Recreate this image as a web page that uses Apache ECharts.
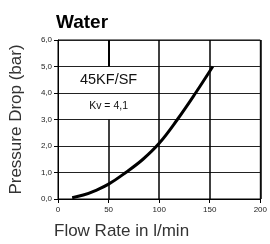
<!DOCTYPE html>
<html><head><meta charset="utf-8">
<script src="https://cdn.jsdelivr.net/npm/echarts@6/dist/echarts.min.js"></script>
<style>html,body{margin:0;padding:0;background:#fff;overflow:hidden}#c{width:270px;height:244px}</style>
</head><body><div id="c"></div>
<script>
var xTicks = [0, 50, 100, 150, 200];
var yTicks = [0, 1, 2, 3, 4, 5, 6];
var curveFlow = [14, 25, 37, 50, 67, 84, 100, 118, 136, 153];
var curveDrop = [0.05, 0.15, 0.32, 0.56, 1.0, 1.5, 2.1, 3.0, 4.0, 5.0];
var labelMain = '45KF/SF';
var labelKv = 'Kv = 4,1';
var boxX = [0, 100], boxY = [3, 5];

var F = '"Liberation Sans", Arial, sans-serif';
var vLines = [];
xTicks.slice(1).forEach(function (x) {
  if (x > boxX[0] && x < boxX[1]) {
    vLines.push([{ coord: [x, 0] }, { coord: [x, boxY[0]] }]);
    vLines.push([{ coord: [x, boxY[1]] }, { coord: [x, 6], lineStyle: { width: 2, color: '#000' } }]);
  } else {
    vLines.push([{ coord: [x, 0] }, { coord: [x, 6] }]);
  }
});
var chart = echarts.init(document.getElementById('c'));
chart.setOption({
  animation: false,
  title: { text: 'Water', left: 51, top: 8, textStyle: { fontFamily: F, fontSize: 19, fontWeight: 'bold', color: '#000' } },
  grid: { left: 54, right: 9, top: 40, bottom: 45, show: true, borderColor: '#000', borderWidth: 1, backgroundColor: 'rgba(0,0,0,0)' },
  xAxis: {
    type: 'value', min: 0, max: 200, interval: 50,
    name: 'Flow Rate in l/min', nameLocation: 'start', nameGap: 0,
    nameTextStyle: { fontFamily: F, fontSize: 17, color: '#333', align: 'left', verticalAlign: 'top', padding: [24, 0, 0, -4] },
    axisLine: { lineStyle: { color: '#000', width: 1 } },
    axisTick: { show: true, length: 4, lineStyle: { color: '#000' } },
    axisLabel: { fontFamily: F, fontSize: 8, color: '#222', margin: 7, showMaxLabel: true },
    splitLine: { show: false }
  },
  yAxis: {
    type: 'value', min: 0, max: 6, interval: 1,
    name: 'Pressure Drop (bar)', nameLocation: 'middle', nameGap: 33, nameRotate: 90,
    nameTextStyle: { fontFamily: F, fontSize: 17, color: '#333' },
    axisLine: { show: true, lineStyle: { color: '#000', width: 1 } },
    axisTick: { show: true, length: 4, lineStyle: { color: '#000' } },
    axisLabel: { fontFamily: F, fontSize: 8, color: '#222', margin: 6, formatter: function (v) { return v.toFixed(1).replace('.', ','); } },
    splitLine: { show: true, lineStyle: { color: '#222', width: 1 } }
  },
  series: [{
    type: 'line', smooth: 0.4, symbol: 'none',
    data: curveFlow.map(function (x, i) { return [x, curveDrop[i]]; }),
    lineStyle: { color: '#000', width: 3 },
    markLine: { silent: true, symbol: 'none', label: { show: false }, lineStyle: { color: '#000', width: 1.5, type: 'solid' }, data: vLines },
    markPoint: {
      symbol: 'rect', symbolSize: 0,
      data: [
        { coord: [50, 4.48], label: { show: true, formatter: labelMain, fontFamily: F, fontSize: 14.5, color: '#111' } },
        { coord: [50, 3.5], label: { show: true, formatter: labelKv, fontFamily: F, fontSize: 10.5, color: '#111' } }
      ]
    }
  }]
});
</script></body></html>
